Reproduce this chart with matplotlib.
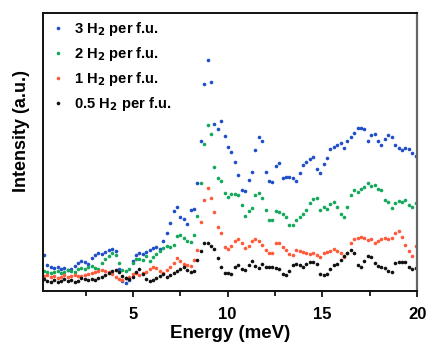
import numpy as np
import matplotlib
matplotlib.use("Agg")
import matplotlib.pyplot as plt
from matplotlib.ticker import MultipleLocator

plt.rcParams["font.family"] = ["Liberation Sans", "DejaVu Sans"]
plt.rcParams["font.weight"] = "bold"

# energy grid of the measured points (meV)
energy = np.round(np.arange(0.3, 20.0, 0.18), 3)

# intensities (a.u.)
i_3h2 = [36, 26, 24, 23, 24, 22, 23, 21, 22, 25, 28, 30, 29, 27, 33, 36, 38, 37, 39, 41,
         42, 40, 22, 10, 8, 11, 30, 36, 38, 37, 39, 41, 43, 44, 42, 50, 58, 68, 80, 84,
         74, 72, 67, 81, 82, 108, 150, 207, 231, 209, 167, 162, 170, 155, 144, 139, 129, 116, 101, 100,
         111, 119, 141, 154, 150, 119, 110, 109, 125, 128, 113, 114, 114, 113, 110, 118, 126, 129, 132, 134,
         122, 118, 127, 133, 142, 144, 146, 148, 143, 150, 154, 158, 163, 163, 162, 150, 156, 157, 150, 146,
         152, 156, 154, 146, 143, 141, 143, 142, 138, 135]
i_2h2 = [20, 19, 18, 19, 20, 18, 19, 21, 20, 19, 22, 23, 22, 24, 25, 23, 22, 28, 32, 35,
         38, 36, 28, 21, 20, 22, 28, 32, 32, 31, 35, 30, 34, 37, 40, 43, 45, 44, 46, 55,
         56, 53, 50, 49, 56, 75, 108, 147, 166, 157, 124, 113, 110, 98, 94, 97, 97, 96, 86, 75,
         80, 83, 96, 98, 93, 81, 71, 71, 80, 79, 77, 74, 66, 66, 71, 74, 77, 81, 88, 92,
         93, 81, 84, 82, 87, 89, 84, 77, 74, 84, 96, 101, 99, 102, 104, 108, 105, 106, 102, 101,
         91, 89, 83, 88, 90, 89, 91, 86, 84, 88]
i_1h2 = [15, 16, 14, 15, 13, 14, 16, 14, 15, 16, 15, 15, 16, 17, 18, 19, 20, 21, 20, 19,
         17, 14, 12, 11, 13, 14, 17, 18, 16, 18, 19, 22, 24, 23, 20, 18, 21, 24, 28, 33,
         30, 27, 26, 25, 31, 41, 69, 91, 103, 93, 79, 64, 58, 44, 42, 45, 50, 52, 48, 43,
         45, 50, 52, 50, 46, 41, 38, 38, 48, 48, 44, 41, 37, 36, 41, 40, 39, 38, 37, 38,
         36, 34, 38, 39, 40, 42, 40, 38, 34, 38, 48, 52, 53, 54, 53, 51, 52, 48, 50, 52,
         53, 52, 53, 58, 60, 54, 46, 40, 35, 45]
i_05h2 = [12, 10, 9, 11, 9, 10, 12, 10, 11, 9, 10, 13, 12, 11, 12, 11, 13, 14, 16, 18,
          20, 21, 19, 15, 13, 12, 14, 19, 22, 17, 12, 10, 11, 13, 15, 17, 14, 16, 18, 20,
          22, 24, 21, 19, 20, 31, 40, 48, 48, 45, 42, 33, 24, 18, 18, 17, 24, 26, 22, 21,
          26, 30, 25, 23, 27, 24, 24, 24, 23, 22, 17, 16, 20, 26, 27, 26, 24, 27, 29, 29,
          27, 17, 16, 17, 22, 26, 27, 31, 35, 38, 41, 38, 26, 24, 30, 35, 34, 28, 25, 24,
          23, 20, 19, 28, 29, 29, 29, 24, 22, 23]

series = [
    (i_3h2, "#1f4fc8", "3 H$_\\mathbf{2}$ per f.u."),
    (i_2h2, "#14a85a", "2 H$_\\mathbf{2}$ per f.u."),
    (i_1h2, "#ff5a3a", "1 H$_\\mathbf{2}$ per f.u."),
    (i_05h2, "#111111", "0.5 H$_\\mathbf{2}$ per f.u."),
]

fig = plt.figure(figsize=(4.3, 3.44), dpi=100)
ax = fig.add_axes([0.1, 0.154, 0.87, 0.808])

for vals, col, lab in series:
    n = min(len(vals), len(energy))
    ax.plot(energy[:n], vals[:n], "o", color=col, markersize=2.6,
            markeredgewidth=0, label=lab)

ax.set_xlim(0.25, 20)
ax.set_ylim(0, 278)
ax.xaxis.set_minor_locator(MultipleLocator(2.5))
ax.set_xticks([5, 10, 15, 20])
ax.tick_params(axis="x", which="major", direction="out", length=4.5, width=1.2,
               labelsize=12, pad=7)
ax.tick_params(axis="x", which="minor", direction="out", length=3.5, width=1.2)
ax.set_yticks([])
for s in ["left", "bottom", "top"]:
    ax.spines[s].set_linewidth(1.4)
    ax.spines[s].set_color("#111111")
ax.spines["right"].set_linewidth(1.6)
ax.spines["right"].set_color("#666666")

ax.set_xlabel("Energy (meV)", fontsize=13.5, fontweight="bold", labelpad=2)
ax.set_ylabel("Intensity (a.u.)", fontsize=13, fontweight="bold")
ax.yaxis.set_label_coords(-0.034, 0.575)

leg = ax.legend(loc="upper left", bbox_to_anchor=(0.0, 1.012), frameon=False,
                fontsize=10.6, handlelength=0.6, handletextpad=0.8,
                labelspacing=0.48, markerscale=1.0, borderpad=0.2)
for t in leg.get_texts():
    t.set_fontweight("bold")

fig.savefig("out.png", dpi=100)
